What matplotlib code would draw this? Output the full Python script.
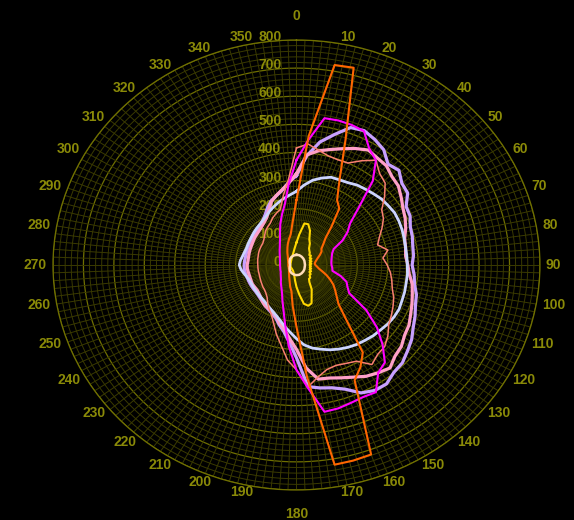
import numpy as np
import matplotlib
matplotlib.use('Agg')
import matplotlib.pyplot as plt

# angles (deg, clockwise from north) shared by the traces
angles_deg = np.arange(0, 360, 5)
peach_angles_deg = np.arange(0, 360, 15)

pale_blue = [262, 285, 306, 320, 332, 334, 338, 347, 352, 358, 365, 368,
             372, 371, 369, 366, 364, 364, 364, 366, 366, 368, 369, 372,
             370, 366, 360, 356, 350, 345, 338, 330, 321, 310, 300, 285,
             262, 240, 222, 205, 192, 183, 176, 170, 166, 164, 163, 162,
             162, 162, 163, 168, 175, 183, 188, 185, 180, 177, 175, 176,
             177, 179, 182, 185, 188, 193, 200, 210, 220, 230, 240, 250]

lavender = [318, 390, 444, 480, 520, 527, 515, 500, 468, 476, 452, 446,
            416, 412, 398, 394, 388, 386, 380, 388, 394, 408, 416, 430,
            443, 462, 476, 492, 498, 516, 515, 502, 470, 452, 444, 434,
            330, 275, 240, 220, 200, 190, 183, 178, 172, 168, 165, 164,
            165, 166, 167, 168, 170, 172, 172, 171, 170, 170, 171, 172,
            173, 175, 178, 181, 186, 193, 206, 225, 243, 255, 270, 295]

pink = [325, 393, 412, 425, 440, 457, 472, 464, 460, 444, 437, 420,
        404, 394, 382, 368, 364, 360, 366, 372, 386, 394, 404, 414,
        427, 434, 450, 458, 478, 468, 457, 440, 427, 416, 412, 368,
        300, 262, 232, 215, 195, 185, 180, 178, 172, 165, 160, 157,
        158, 160, 159, 159, 160, 162, 162, 160, 160, 161, 162, 163,
        165, 168, 170, 173, 178, 185, 195, 215, 240, 256, 272, 292]

salmon = [416, 432, 415, 402, 398, 400, 428, 455, 425, 412, 378, 342,
          330, 310, 290, 276, 305, 285, 298, 310, 318, 326, 340, 350,
          360, 370, 392, 410, 415, 432, 395, 386, 380, 385, 405, 435,
          373, 339, 290, 255, 220, 195, 180, 165, 150, 142, 137, 135,
          132, 130, 128, 127, 127, 127, 127, 128, 129, 130, 132, 133,
          134, 135, 140, 148, 158, 165, 172, 185, 195, 205, 250, 305]

magenta = [373, 446, 530, 532, 530, 525, 478, 455, 390, 290, 230, 205,
           175, 135, 125, 120, 117, 115, 115, 118, 120, 150, 175, 185,
           200, 280, 345, 400, 452, 468, 522, 518, 522, 528, 530, 440,
           373, 290, 215, 165, 135, 112, 98, 88, 80, 72, 67, 63,
           60, 57, 56, 55, 54, 54, 54, 54, 55, 56, 58, 60,
           63, 67, 72, 78, 85, 95, 108, 128, 155, 185, 220, 290]

orange = [231, 460, 722, 726, 470, 335, 267, 245, 180, 135, 115, 100,
          95, 85, 75, 68, 63, 60, 62, 68, 75, 88, 105, 122,
          140, 155, 172, 195, 255, 380, 420, 452, 717, 720, 721, 400,
          220, 145, 95, 80, 65, 55, 48, 42, 38, 35, 32, 30,
          29, 28, 27, 27, 27, 27, 27, 27, 27, 28, 29, 30,
          32, 34, 37, 40, 45, 52, 60, 70, 82, 95, 110, 150]

yellow = [80, 110, 150, 150, 130, 100, 88, 72, 66, 62, 55, 58,
          50, 54, 46, 51, 44, 49, 43, 48, 44, 50, 46, 53,
          49, 57, 56, 64, 64, 74, 100, 118, 145, 150, 140, 105,
          78, 55, 40, 33, 28, 25, 23, 22, 21, 21, 20, 20,
          20, 20, 20, 20, 20, 20, 20, 20, 20, 20, 20, 21,
          21, 22, 23, 24, 26, 28, 30, 33, 37, 42, 50, 62]

peach = [36, 36, 34, 32, 30, 28, 28, 28, 30, 32, 34, 36,
         36, 35, 33, 30, 26, 23, 21, 23, 26, 30, 33, 35]

angle_ticks = list(range(0, 360, 10))
angle_labels = [str(a) for a in angle_ticks]
radius_ticks = list(range(0, 801, 100))
radius_labels = [str(r) for r in radius_ticks]

R_MAX = 800
TEXT_COL = '#8a8a08'
GRID_MAJOR = '#707000'
GRID_MINOR = '#3a3a00'
FONT = dict(family='Liberation Sans', fontweight='bold', fontsize=10, color=TEXT_COL)

fig = plt.figure(figsize=(5.74, 5.20), dpi=100, facecolor='black')
ax = fig.add_axes([0.0923, 0.0577, 0.8484, 0.8654], projection='polar', facecolor='black')
ax.set_aspect('auto')
ax.set_theta_zero_location('N')
ax.set_theta_direction(-1)
ax.set_ylim(0, R_MAX)
ax.set_xticks([])
ax.set_yticks([])
ax.grid(False)
ax.spines['polar'].set_color(GRID_MAJOR)
ax.spines['polar'].set_linewidth(0.9)

# grid: rings every 20 (brighter every 100), spokes every 2 degrees
ring = np.linspace(0, 2 * np.pi, 721)
for r in range(20, R_MAX + 1, 20):
    major = r % 100 == 0
    ax.plot(ring, np.full_like(ring, r), color=GRID_MAJOR if major else GRID_MINOR,
            lw=0.9 if major else 0.7, zorder=1)
for a in range(0, 360, 2):
    t = np.deg2rad(a)
    ax.plot([t, t], [0, R_MAX], color=GRID_MINOR, lw=0.7, zorder=1)

# angle labels around the rim
for a, lab in zip(angle_ticks, angle_labels):
    t = np.deg2rad(a)
    s, c = np.sin(t), np.cos(t)
    if abs(s) < 0.01:
        ha, va, off = 'center', ('bottom' if c > 0 else 'top'), (0, 17 * np.sign(c))
    else:
        ha, va, off = ('left' if s > 0 else 'right'), 'center', (6 * s, 6 * c)
    ax.annotate(lab, xy=(t, R_MAX), xytext=off, textcoords='offset pixels',
                ha=ha, va=va, annotation_clip=False, **FONT)

# radius labels along the north axis
for r, lab in zip(radius_ticks, radius_labels):
    ax.annotate(lab, xy=(0, r), xytext=(-15, 3), textcoords='offset pixels',
                ha='right', va='center', zorder=2, annotation_clip=False, **FONT)

series = [
    (lavender, '#c8a0ff', 2.3),
    (pink, '#ffa0c8', 2.3),
    (pale_blue, '#ccd4ff', 2.0),
    (salmon, '#fa8072', 1.1),
    (magenta, '#ff00ff', 1.5),
    (orange, '#ff6600', 1.5),
    (yellow, '#ffd700', 1.5),
]
theta = np.deg2rad(np.append(angles_deg, angles_deg[0]))
for vals, col, lw in series:
    ax.plot(theta, np.append(vals, vals[0]), color=col, lw=lw, zorder=3)

theta_p = np.deg2rad(np.append(peach_angles_deg, peach_angles_deg[0]))
ax.plot(theta_p, np.append(peach, peach[0]), color='#ffdcb8', lw=1.8, zorder=3)

fig.savefig('out.png', dpi=100, facecolor='black')
